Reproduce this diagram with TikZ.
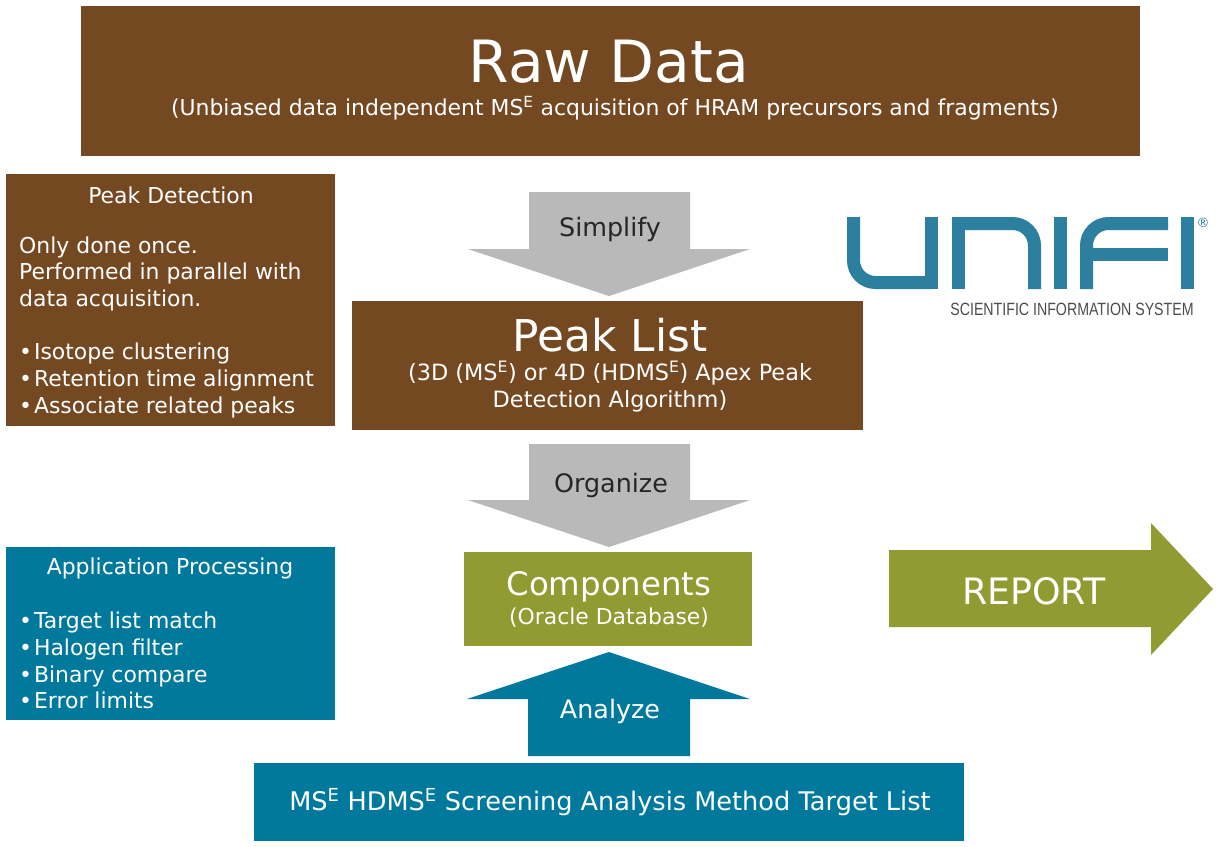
\documentclass[tikz,border=0pt]{standalone}
\usepackage{fontspec}
\setmainfont{DejaVu Sans}
\newfontfamily\logofont[FakeStretch=0.8]{Liberation Sans}
\usepackage{tikz}
\definecolor{brownbox}{HTML}{744821}
\definecolor{tealbox}{HTML}{00799C}
\definecolor{olivebox}{HTML}{929A32}
\definecolor{greyarrow}{HTML}{B9B9B9}
\definecolor{unifiblue}{HTML}{2C7F9E}
\tikzset{
    box/.style={anchor=north west, inner sep=0pt},
    boxtext/.style={text=white, inner sep=0pt, align=center},
    listtext/.style={anchor=north west, text=white, align=left, inner sep=0pt, font=\fontsize{22}{26.7}\selectfont},
    arrowlabel/.style={font=\fontsize{25.5}{30}\selectfont, inner sep=0pt},
    logostroke/.style={draw=unifiblue, line width=13bp}
}
\newcommand{\msE}{MS\textsuperscript{E}}
\newcommand{\itemdot}{•\kern-5bp\ }
\begin{document}
\begin{tikzpicture}[x=1bp,y=-1bp]
    \useasboundingbox (0,0) rectangle (1227,847);
    \fill[white] (0,0) rectangle (1227,847);
    % Boxes
    \node[box, fill=brownbox, minimum width=1059bp, minimum height=150bp] (rawdata) at (81,6) {};
    \node[boxtext, font=\fontsize{58.5}{70}\selectfont] (rawtitle) at (609,62) {Raw Data};
    \node[boxtext, font=\fontsize{22}{26}\selectfont] (rawsub) at (615,108) {(Unbiased data independent \msE{} acquisition of HRAM precursors and fragments)};

    \node[box, fill=brownbox, minimum width=329bp, minimum height=252bp] (detect) at (6,174) {};
    \node[boxtext, font=\fontsize{22}{26}\selectfont] (detecttitle) at (171,195) {Peak Detection};
    \node[listtext] (detecttext) at (19,236.5) {Only done once.\\Performed in parallel with\\data acquisition.\\[26.7bp]\itemdot Isotope clustering\\\itemdot Retention time alignment\\\itemdot Associate related peaks};

    \node[box, fill=brownbox, minimum width=511bp, minimum height=129bp] (peaklist) at (352,301) {};
    \node[boxtext, font=\fontsize{44}{52}\selectfont] (peaktitle) at (610,335) {Peak List};
    \node[boxtext, font=\fontsize{22.5}{27.5}\selectfont] (peaksub) at (610,387) {(3D (\msE) or 4D (HDMS\textsuperscript{E}) Apex Peak\\Detection Algorithm)};

    \node[box, fill=tealbox, minimum width=329bp, minimum height=173bp] (apps) at (6,547) {};
    \node[boxtext, font=\fontsize{22}{26}\selectfont] (appstitle) at (170,568) {Application Processing};
    \node[listtext] (appstext) at (19,612) {\itemdot Target list match\\\itemdot Halogen filter\\\itemdot Binary compare\\\itemdot Error limits};

    \node[box, fill=olivebox, minimum width=288bp, minimum height=94bp] (components) at (464,552) {};
    \node[boxtext, font=\fontsize{32.5}{38}\selectfont] (comptitle) at (609,587) {Components};
    \node[boxtext, font=\fontsize{22}{26}\selectfont] (compsub) at (609,618) {(Oracle Database)};

    \node[box, fill=tealbox, minimum width=710bp, minimum height=78bp] (targets) at (254,763) {};
    \node[boxtext, font=\fontsize{25.7}{30}\selectfont] (targettext) at (610,802) {\msE{} HDMS\textsuperscript{E} Screening Analysis Method Target List};

    % Arrows
    \fill[greyarrow] (529,192) -- (690,192) -- (690,249) -- (750,249) -- (609,296) -- (468,249) -- (529,249) -- cycle;
    \node[arrowlabel, text=black!85] (simplify) at (610,229) {Simplify};
    \fill[greyarrow] (529,444) -- (690,444) -- (690,500) -- (750,500) -- (609,547) -- (468,500) -- (529,500) -- cycle;
    \node[arrowlabel, text=black!85] (organize) at (611,485) {Organize};
    \fill[tealbox] (528,756) -- (690,756) -- (690,699) -- (750,699) -- (609,652) -- (467,699) -- (528,699) -- cycle;
    \node[arrowlabel, text=white] (analyze) at (610,711) {Analyze};
    \fill[olivebox] (889,550) -- (1151,550) -- (1151,523) -- (1213,589) -- (1151,655) -- (1151,627) -- (889,627) -- cycle;
    \node[boxtext, font=\fontsize{36.5}{42}\selectfont] (report) at (1034,591) {REPORT};

    % Logo
    \draw[logostroke, rounded corners=22bp] (853.5,217) -- (853.5,282.5) -- (931.5,282.5);
    \draw[logostroke] (931.5,217) -- (931.5,289);
    \draw[logostroke] (958,289) -- (958,217);
    \draw[logostroke, rounded corners=22bp] (952,223.5) -- (1034.5,223.5) -- (1034.5,289);
    \draw[logostroke] (1060,217) -- (1060,289);
    \draw[logostroke, rounded corners=22bp] (1086.5,289) -- (1086.5,223.5) -- (1168,223.5);
    \draw[logostroke] (1086.5,254) -- (1168,254);
    \draw[logostroke] (1187,217) -- (1187,289);
    \node[font=\fontsize{13}{14}\selectfont, text=unifiblue, inner sep=0pt] (regmark) at (1203,223) {®};
    \node[font=\logofont\fontsize{17.8}{20}\selectfont, text=black!70, inner sep=0pt] (slogan) at (1072,309) {SCIENTIFIC INFORMATION SYSTEM};
\end{tikzpicture}
\end{document}
